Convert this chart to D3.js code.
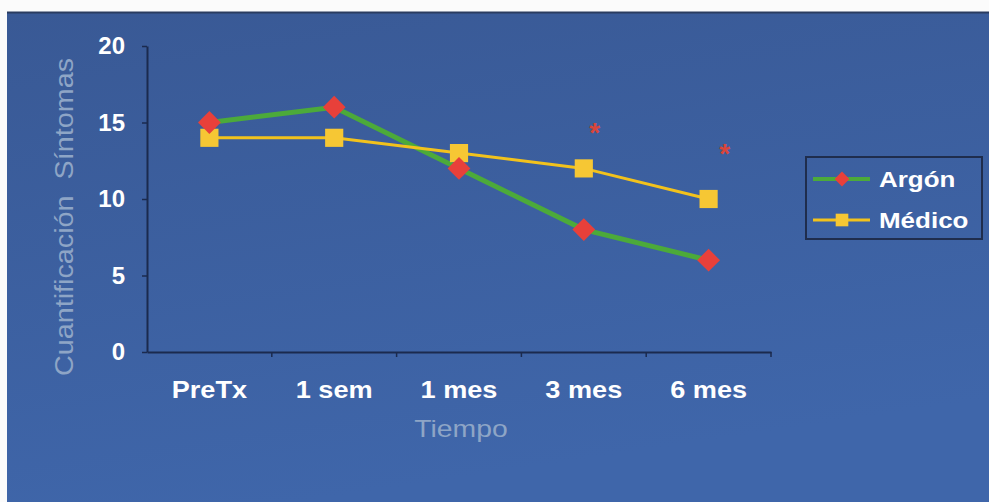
<!DOCTYPE html>
<html><head><meta charset="utf-8">
<script src="https://cdn.jsdelivr.net/npm/d3@7"></script>
<style>html,body{margin:0;padding:0;background:#fff;}svg{display:block;}</style>
</head><body>
<script>
const categories = ["PreTx", "1 sem", "1 mes", "3 mes", "6 mes"];
const argon = [15, 16, 12, 8, 6];
const medico = [14, 14, 13, 12, 10];
const yTicks = [0, 5, 10, 15, 20];
const starCats = ["3 mes", "6 mes"];
const starVals = [14.6, 13.2];
const seriesNames = ["Argón", "Médico"];

const W = 989, H = 502;
const svg = d3.select("body").append("svg").attr("width", W).attr("height", H);

const defs = svg.append("defs");
const grad = defs.append("linearGradient").attr("id", "bg").attr("x1", 0).attr("y1", 0).attr("x2", 0.3).attr("y2", 1);
grad.append("stop").attr("offset", "0%").attr("stop-color", "#395995");
grad.append("stop").attr("offset", "100%").attr("stop-color", "#3f66aa");

svg.append("rect").attr("x", 0).attr("y", 0).attr("width", W).attr("height", H).attr("fill", "#fbfbfb");
svg.append("rect").attr("x", 7).attr("y", 12).attr("width", W - 7).attr("height", H - 12).attr("fill", "url(#bg)");
svg.append("line").attr("x1", 7).attr("x2", W).attr("y1", 12.5).attr("y2", 12.5).attr("stroke", "#2a3c60").attr("stroke-width", 2);

const x = d3.scaleBand().domain(categories).range([147, 771]);
const y = d3.scaleLinear().domain([0, 20]).range([352, 46]);
const font = "'Liberation Sans', Arial, sans-serif";

function stretch(sel, k) {
  sel.each(function () {
    const L = this.getComputedTextLength();
    d3.select(this).attr("textLength", L * k).attr("lengthAdjust", "spacingAndGlyphs");
  });
}

// y axis
const yAxis = svg.append("g").attr("transform", "translate(147,0)")
  .call(d3.axisLeft(y).tickValues(yTicks).tickSize(5).tickSizeOuter(0));
yAxis.select(".domain").attr("stroke", "#1b2a4e").attr("stroke-width", 2);
yAxis.selectAll(".tick line").attr("stroke", "#1b2a4e").attr("stroke-width", 1.5);
yAxis.selectAll(".tick text").attr("fill", "#ffffff").attr("font-family", font)
  .attr("font-size", 24).attr("font-weight", "bold").attr("x", -22).attr("dy", "0.33em");

// x axis
const xAxis = svg.append("g").attr("transform", "translate(0,352)")
  .call(d3.axisBottom(x).tickSize(0).tickSizeOuter(0));
xAxis.select(".domain").attr("stroke", "#1b2a4e").attr("stroke-width", 2);
xAxis.selectAll(".tick text").attr("fill", "#ffffff").attr("font-family", font)
  .attr("font-size", 24).attr("font-weight", "bold")
  .attr("dy", "0").attr("y", 46).call(stretch, 1.13);
// band boundary ticks
xAxis.selectAll(".bt").data(categories).enter().append("line")
  .attr("x1", d => x(d) + x.bandwidth()).attr("x2", d => x(d) + x.bandwidth())
  .attr("y1", 0).attr("y2", 5).attr("stroke", "#1b2a4e").attr("stroke-width", 1.5);

// titles
svg.append("text").attr("transform", "translate(73,217) rotate(-90)")
  .attr("text-anchor", "middle").attr("fill", "#8ea5c6").attr("font-family", font)
  .attr("font-size", 25).style("white-space", "pre")
  .text("Cuantificación  Síntomas").call(stretch, 1.15);
svg.append("text").attr("x", 461).attr("y", 437).attr("text-anchor", "middle")
  .attr("fill", "#8ea5c6").attr("font-family", font).attr("font-size", 24)
  .text("Tiempo").call(stretch, 1.18);

const cx = c => x(c) + x.bandwidth() / 2;
const line = d3.line().x((d, i) => cx(categories[i])).y(d => y(d));

svg.append("path").datum(argon).attr("d", line).attr("fill", "none")
  .attr("stroke", "#4caa3a").attr("stroke-width", 5);
svg.append("path").datum(medico).attr("d", line).attr("fill", "none")
  .attr("stroke", "#f2c21c").attr("stroke-width", 3);

const diamond = d3.symbol().type(d3.symbolSquare).size(260);
const square = d3.symbol().type(d3.symbolSquare).size(330);

svg.selectAll(".med").data(medico).enter().append("path")
  .attr("d", square).attr("fill", "#f6c734")
  .attr("transform", (d, i) => `translate(${cx(categories[i])},${y(d)})`);
svg.selectAll(".arg").data(argon).enter().append("path")
  .attr("d", diamond).attr("fill", "#e8403a")
  .attr("transform", (d, i) => `translate(${cx(categories[i])},${y(d)}) rotate(45)`);

// asterisks
svg.selectAll(".star").data(starVals).enter().append("text")
  .attr("x", (d, i) => cx(starCats[i]) + (i === 0 ? 11 : 16))
  .attr("y", d => y(d) + 13).attr("text-anchor", "middle")
  .attr("fill", "#d9453a").attr("font-family", font).attr("font-size", 28).attr("font-weight", "bold")
  .text("*");

// legend
const lg = svg.append("g");
lg.append("rect").attr("x", 806).attr("y", 157).attr("width", 176).attr("height", 82)
  .attr("fill", "none").attr("stroke", "#1f2d4d").attr("stroke-width", 2);
const lcolors = ["#4caa3a", "#f2c21c"];
seriesNames.forEach((n, i) => {
  const ly = 179 + i * 41;
  lg.append("line").attr("x1", 813).attr("x2", 870).attr("y1", ly).attr("y2", ly)
    .attr("stroke", lcolors[i]).attr("stroke-width", i === 0 ? 4 : 3);
  if (i === 0) {
    lg.append("path").attr("d", d3.symbol().type(d3.symbolSquare).size(110))
      .attr("fill", "#e8403a").attr("transform", `translate(842,${ly}) rotate(45)`);
  } else {
    lg.append("path").attr("d", d3.symbol().type(d3.symbolSquare).size(160))
      .attr("fill", "#f6c734").attr("transform", `translate(842,${ly})`);
  }
  lg.append("text").attr("x", 879).attr("y", ly + 8).attr("fill", "#ffffff")
    .attr("font-family", font).attr("font-size", 22).attr("font-weight", "bold")
    .text(n).call(stretch, 1.18);
});
</script>
</body></html>
